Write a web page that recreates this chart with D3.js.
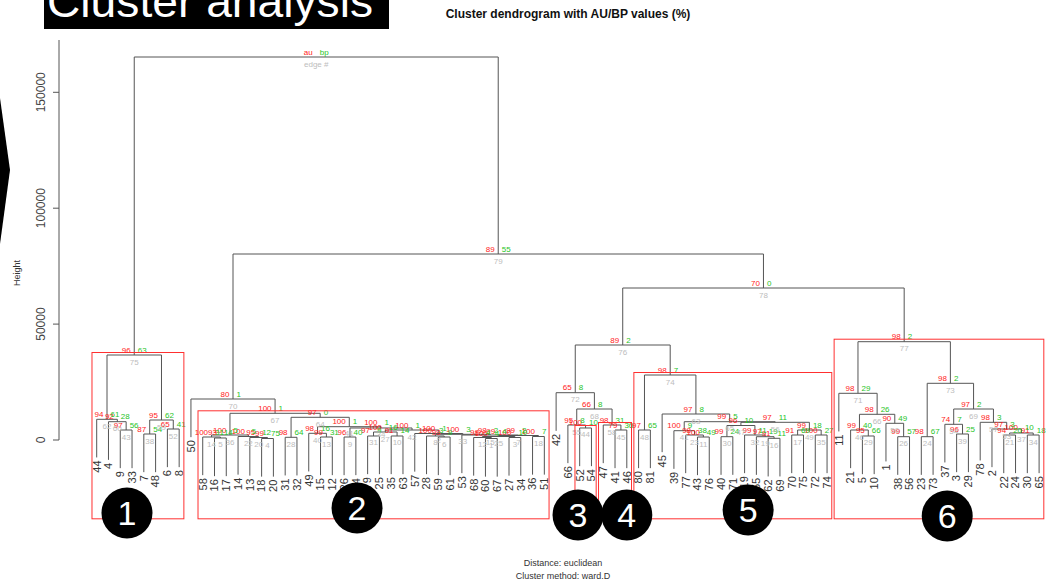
<!DOCTYPE html>
<html>
<head>
<meta charset="utf-8">
<script src="https://cdn.jsdelivr.net/npm/d3@7"></script>
<style>
  body { margin: 0; background: #fff; }
  svg { display: block; }
  text { font-family: "Liberation Sans", Arial, sans-serif; }
</style>
</head>
<body>
<script>
// leaves, left to right as drawn
const leafLabels = ['44','4','9','33','7','48','6','8','50',
  '58','16','17','14','13','18','20','31','32','49','15','12','26','64','79','25','35','63','57','28',
  '59','61','53','68','60','67','27','34','36','51',
  '42','66','52','54','47','41','46',
  '80','81','45','39','77','43','76','40','71','19','55','62','69','70','75','72','74',
  '11','21','5','10','1','38','56','23','73','37','3','29','78','2','22','24','30','65'];

// merges: string = leaf label, number = earlier merge row
const merges = [
  ['9','33'], ['4',0], ['44',1], ['7','48'], ['6','8'], [3,4], [2,5],
  ['16','17'], ['58',7], ['18','20'], ['13',9], ['14',10], [8,11],
  ['31','32'], ['15','12'], ['49',14], ['26','64'], ['79','25'], ['35','63'], [17,18],
  ['59','61'], ['28',20], ['60','67'], ['68',22], ['27','34'], [23,24], ['36','51'], [25,26],
  ['53',27], [21,28], ['57',29], [19,30], [16,31], [15,32], [13,33], [12,34], ['50',35],
  ['52','54'], ['66',37], ['41','46'], ['47',39], [38,40], ['42',41],
  ['80','81'], ['43','76'], ['77',44], ['39',45], ['40','71'], ['62','69'], ['55',48], ['19',49],
  [47,50], ['70','75'], ['72','74'], [52,53], [51,54], [46,55], ['45',56], [43,57], [42,58],
  ['5','10'], ['21',60], ['38','56'], ['1',62], [61,63], ['11',64], ['23','73'], ['3','29'],
  ['37',67], ['22','24'], ['30','65'], [69,70], ['2',71], ['78',72], [68,73], [66,74], [65,75],
  [59,76], [36,77], [6,78]
];

const heights = [
  4314, 7895, 8930, 2588, 4745, 8628, 36669,
  863, 1294, 647, 1079, 1510, 2157,
  1165, 1294, 2890, 1294, 1726, 1726, 3451,
  1294, 1726, 647, 1079, 1079, 1510, 1510, 1941,
  2157, 2459, 2804, 4314, 5177, 5738, 9793, 11518, 17687,
  5177, 6471, 4314, 6471, 13373, 20405,
  4314, 1294, 2157, 4012, 1424, 733, 1424, 2157,
  6255, 2157, 2157, 4314, 7636, 7895, 11216, 28041, 40983,
  1726, 4314, 1424, 7204, 11087, 20146, 1424, 2588,
  6773, 2157, 2157, 3020, 4745, 7636, 13373, 24460, 42406,
  65573, 80240, 165226
];

const auValues = [97,92,94,87,65,95,96, 93,100,99,95,100,100,
  98,99,98,96,97,91,100,99,100,100,98,100,99,100,99,98,100,100,100,100,100,97,100,80,
  100,95,79,98,66,65,
  97,100,98,100,99,91,97,99,96,91,100,99,97,99,97,98,89,
  95,99,99,90,98,98,98,96,74,94,91,100,97,98,97,98,98,70,89];

const bpValues = [56,28,61,54,41,62,63, 14,31,75,12,5,5,
  64,31,16,40,9,14,16,9,3,4,4,10,4,7,2,2,3,1,1,1,1,0,1,1,
  10,8,36,31,8,8,
  65,49,38,9,24,11,19,11,10,69,27,18,11,5,8,7,2,
  66,40,57,49,26,29,67,25,7,20,18,10,3,3,2,2,2,0,55];

const edgeIds = [43,60,62,38,52,59,75, 5,14,4,20,22,36,
  28,13,40,9,31,10,27,6,8,1,12,3,25,18,7,15,33,2,42,34,41,64,67,70,
  44,55,45,58,68,72,
  48,11,23,41,30,16,19,32,47,17,35,49,56,65,63,74,76,
  29,46,26,50,66,71,24,39,54,21,34,37,53,57,69,73,77,78,79];

// significant clusters boxed in red (merge rows) and their numbered badges
const clusterRoots = [6, 35, 37, 40, 58, 76];
const badgeNames = ['1','2','3','4','5','6'];
const badgeLeafPos = [2.57, 22.1, 40.86, 45.0, 55.3, 72.2];
const badgeY = [513, 508, 515, 515, 510, 516];

const yTicks = [0, 50000, 100000, 150000];

const W = 1051, H = 583;
const svg = d3.select('body').append('svg')
    .attr('width', W)
    .attr('height', H);

const x = d3.scaleLinear().domain([0, leafLabels.length - 1]).range([96.7, 1039.1]);
const y = d3.scaleLinear().domain([0, 150000]).range([440, 92.3]);

const leafPos = new Map(leafLabels.map((d, i) => [d, i]));
const hang = 0.1 * (d3.max(heights) - d3.min(heights));

const nodeX = [], nodeSpan = [];
function childInfo(c) {
  if (typeof c === 'string') {
    const i = leafPos.get(c);
    return {x: x(i), lo: i, hi: i, leaf: true};
  }
  return {x: nodeX[c], lo: nodeSpan[c][0], hi: nodeSpan[c][1], leaf: false};
}
merges.forEach(([a, b], i) => {
  const ca = childInfo(a), cb = childInfo(b);
  nodeX[i] = (ca.x + cb.x) / 2;
  nodeSpan[i] = [Math.min(ca.lo, cb.lo), Math.max(ca.hi, cb.hi)];
});

// dendrogram branches
const leafEnds = [];
const g = svg.append('g');
merges.forEach(([a, b], i) => {
  const h = heights[i];
  const ca = childInfo(a), cb = childInfo(b);
  const ta = ca.leaf ? y(h - hang) : y(heights[a]);
  const tb = cb.leaf ? y(h - hang) : y(heights[b]);
  if (ca.leaf) leafEnds.push({label: a, x: ca.x, y: ta});
  if (cb.leaf) leafEnds.push({label: b, x: cb.x, y: tb});
  g.append('path')
      .attr('d', `M${ca.x},${ta}V${y(h)}H${cb.x}V${tb}`)
      .attr('fill', 'none')
      .attr('stroke', '#555')
      .attr('stroke-width', 1);
});

// leaf labels
svg.selectAll('text.leaf')
    .data(leafEnds)
    .enter()
  .append('text')
    .attr('class', 'leaf')
    .attr('transform', d => `translate(${d.x},${d.y + 3}) rotate(-90)`)
    .attr('dy', '0.35em')
    .attr('text-anchor', 'end')
    .attr('font-size', 11)
    .attr('fill', '#333')
    .text(d => d.label);

// au / bp / edge numbers
const inner = merges.slice(0, merges.length - 1).map((m, i) => i);
const lab = svg.append('g').attr('font-size', 8);
lab.selectAll('text.au').data(inner).enter().append('text')
    .attr('x', i => nodeX[i] - 3.5).attr('y', i => y(heights[i]) - 2.5)
    .attr('text-anchor', 'end').attr('fill', '#ff1a1a')
    .text(i => auValues[i]);
lab.selectAll('text.bp').data(inner).enter().append('text')
    .attr('x', i => nodeX[i] + 3.5).attr('y', i => y(heights[i]) - 2.5)
    .attr('fill', '#1fc41f')
    .text(i => bpValues[i]);
lab.selectAll('text.edge').data(inner).enter().append('text')
    .attr('x', i => nodeX[i]).attr('y', i => y(heights[i]) + 9.5)
    .attr('text-anchor', 'middle').attr('fill', '#bdbdbd')
    .text(i => edgeIds[i]);

// legend at the root
const root = merges.length - 1;
lab.append('text').attr('x', nodeX[root] - 3.5).attr('y', y(heights[root]) - 2.5)
    .attr('text-anchor', 'end').attr('fill', '#ff1a1a').text('au');
lab.append('text').attr('x', nodeX[root] + 3.5).attr('y', y(heights[root]) - 2.5)
    .attr('fill', '#1fc41f').text('bp');
lab.append('text').attr('x', nodeX[root]).attr('y', y(heights[root]) + 9.5)
    .attr('text-anchor', 'middle').attr('fill', '#bdbdbd').text('edge #');

// red cluster rectangles
const boxFloor = -34000;
svg.selectAll('rect.box')
    .data(clusterRoots)
    .enter()
  .append('rect')
    .attr('class', 'box')
    .attr('x', i => x(nodeSpan[i][0] - 0.4))
    .attr('y', i => y(heights[i]) - 2.5)
    .attr('width', i => x(nodeSpan[i][1] + 0.4) - x(nodeSpan[i][0] - 0.4))
    .attr('height', i => y(boxFloor) - y(heights[i]) + 2.5)
    .attr('fill', 'none')
    .attr('stroke', '#ff3030')
    .attr('stroke-width', 1);

// y axis
const ax = svg.append('g');
ax.append('line').attr('x1', 59).attr('x2', 59).attr('y1', 40).attr('y2', y(0))
    .attr('stroke', '#555');
ax.selectAll('line.tick').data(yTicks).enter().append('line')
    .attr('x1', 53).attr('x2', 59).attr('y1', d => y(d)).attr('y2', d => y(d))
    .attr('stroke', '#555');
ax.selectAll('text.tick').data(yTicks).enter().append('text')
    .attr('transform', d => `translate(45,${y(d)}) rotate(-90)`)
    .attr('text-anchor', 'middle')
    .attr('font-size', 12)
    .attr('fill', '#444')
    .text(d => d);
svg.append('text')
    .attr('transform', 'translate(20,273) rotate(-90)')
    .attr('text-anchor', 'middle')
    .attr('font-size', 9)
    .attr('fill', '#333')
    .text('Height');

// titles
svg.append('text').attr('x', 568).attr('y', 18)
    .attr('text-anchor', 'middle').attr('font-size', 12).attr('font-weight', 'bold')
    .attr('fill', '#111')
    .text('Cluster dendrogram with AU/BP values (%)');
svg.append('text').attr('x', 563).attr('y', 566)
    .attr('text-anchor', 'middle').attr('font-size', 9).attr('fill', '#333')
    .text('Distance:  euclidean');
svg.append('text').attr('x', 563).attr('y', 579)
    .attr('text-anchor', 'middle').attr('font-size', 9).attr('fill', '#333')
    .text('Cluster method: ward.D');

// slide overlay: heading box, arrow tip and numbered badges
svg.append('rect').attr('x', 44).attr('y', -5).attr('width', 345).attr('height', 34)
    .attr('fill', '#000');
svg.append('text').attr('x', 47).attr('y', 17)
    .attr('font-family', 'Lato, "Open Sans", sans-serif')
    .attr('font-size', 44).attr('fill', '#fff')
    .attr('textLength', 326).attr('lengthAdjust', 'spacingAndGlyphs')
    .text('Cluster analysis');
svg.append('polygon').attr('points', '0,98 10,170 0,244').attr('fill', '#000');

const badges = svg.selectAll('g.badge')
    .data(badgeNames)
    .enter()
  .append('g')
    .attr('transform', (d, i) => `translate(${x(badgeLeafPos[i])},${badgeY[i]})`);
badges.append('circle').attr('r', 25.5).attr('fill', '#000');
badges.append('text')
    .attr('text-anchor', 'middle')
    .attr('dy', '0.36em')
    .attr('font-family', '"Open Sans", sans-serif')
    .attr('font-size', 34)
    .attr('fill', '#fff')
    .text(d => d);
</script>
</body>
</html>
